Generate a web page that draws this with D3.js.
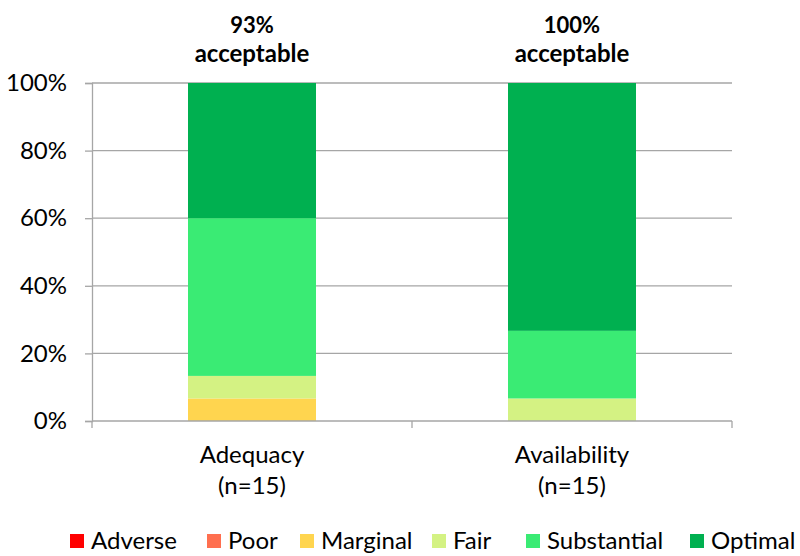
<!DOCTYPE html>
<html>
<head>
<meta charset="utf-8">
<script src="https://cdn.jsdelivr.net/npm/d3@7"></script>
<style>
  body { margin: 0; background: #fff; }
  text { font-family: Lato, "Open Sans", sans-serif; fill: #000; }
</style>
</head>
<body>
<div id="chart"></div>
<script>
// data
const categories = ["Adequacy", "Availability"];
const sampleSizes = [15, 15];
const levels = ["Adverse", "Poor", "Marginal", "Fair", "Substantial", "Optimal"];
const adequacyPct = [0, 0, 6.67, 6.67, 46.67, 40];
const availabilityPct = [0, 0, 0, 6.67, 20, 73.33];
const acceptableLabels = ["93%", "100%"];
const levelColors = ["#FF0000", "#FF6F4F", "#FFD54F", "#D4F283", "#3AEB74", "#00B050"];
const yTicks = [0, 20, 40, 60, 80, 100];

const W = 800, H = 556;
const margin = { top: 83, right: 68, bottom: 135, left: 92 };
const width = W - margin.left - margin.right;
const height = H - margin.top - margin.bottom;

const rows = categories.map((c, i) => {
  const vals = i === 0 ? adequacyPct : availabilityPct;
  const r = { cat: c };
  levels.forEach((l, j) => (r[l] = vals[j]));
  return r;
});

const svg = d3.select("#chart").append("svg")
  .attr("width", W).attr("height", H);
const g = svg.append("g").attr("transform", `translate(${margin.left},${margin.top})`);

const x = d3.scaleBand().domain(categories).range([0, width]).paddingInner(0.6).paddingOuter(0.3);
const xOuter = d3.scaleBand().domain(categories).range([0, width]);
const y = d3.scaleLinear().domain([0, 100]).range([height, 0]);

// gridlines
g.append("g").selectAll("line").data(yTicks.filter(d => d > 0)).enter().append("line")
  .attr("x1", 0).attr("x2", width)
  .attr("y1", d => y(d)).attr("y2", d => y(d))
  .attr("stroke", "#a6a6a6").attr("stroke-width", 1.3);

// stacked bars
const stack = d3.stack().keys(levels)(rows);
g.append("g").selectAll("g").data(stack).enter().append("g")
  .attr("fill", (d, i) => levelColors[i])
  .selectAll("rect").data(d => d).enter().append("rect")
  .attr("x", d => x(d.data.cat))
  .attr("width", x.bandwidth())
  .attr("y", d => y(d[1]))
  .attr("height", d => y(d[0]) - y(d[1]));

// y axis
const yAxis = g.append("g")
  .call(d3.axisLeft(y).tickValues(yTicks).tickFormat(d => d + "%").tickSize(7).tickPadding(18));
yAxis.select(".domain").attr("stroke", "#a6a6a6").attr("stroke-width", 1.3);
yAxis.selectAll(".tick line").attr("stroke", "#a6a6a6").attr("stroke-width", 1.3);
yAxis.selectAll("text").style("font-size", "24px").attr("fill", "#000");

// x axis with ticks at category boundaries
g.append("line").attr("x1", 0).attr("x2", width).attr("y1", height).attr("y2", height)
  .attr("stroke", "#a6a6a6").attr("stroke-width", 1.3);
const bounds = [0].concat(categories.map(c => xOuter(c) + xOuter.bandwidth()));
g.append("g").selectAll("line").data(bounds).enter().append("line")
  .attr("x1", d => d).attr("x2", d => d)
  .attr("y1", height).attr("y2", height + 7)
  .attr("stroke", "#a6a6a6").attr("stroke-width", 1.3);

const xl = g.append("g").selectAll("text").data(categories).enter().append("text")
  .attr("text-anchor", "middle")
  .style("font-size", "24px");
xl.append("tspan").attr("x", d => x(d) + x.bandwidth() / 2).attr("y", height + 42).text(d => d);
xl.append("tspan").attr("x", d => x(d) + x.bandwidth() / 2).attr("y", height + 73)
  .text((d, i) => `(n=${sampleSizes[i]})`);

// acceptable labels (two separate text lines)
const tg = g.append("g");
tg.selectAll("text.pct").data(categories).enter().append("text")
  .attr("class", "pct")
  .attr("text-anchor", "middle")
  .attr("x", d => x(d) + x.bandwidth() / 2).attr("y", -50)
  .style("font-size", "22px").style("font-weight", "bold")
  .text((d, i) => acceptableLabels[i]);
tg.selectAll("text.acc").data(categories).enter().append("text")
  .attr("class", "acc")
  .attr("text-anchor", "middle")
  .attr("x", d => x(d) + x.bandwidth() / 2).attr("y", -21)
  .style("font-size", "24px").style("font-weight", "bold")
  .text("acceptable");

// legend
const legendX = [70, 207, 300, 432, 526, 690];
const lg = svg.append("g").selectAll("g").data(levels).enter().append("g")
  .attr("transform", (d, i) => `translate(${legendX[i]},534)`);
lg.append("rect").attr("width", 14).attr("height", 14).attr("fill", (d, i) => levelColors[i]);
lg.append("text").attr("x", 21).attr("y", 15).style("font-size", "24px").text(d => d);
</script>
</body>
</html>
